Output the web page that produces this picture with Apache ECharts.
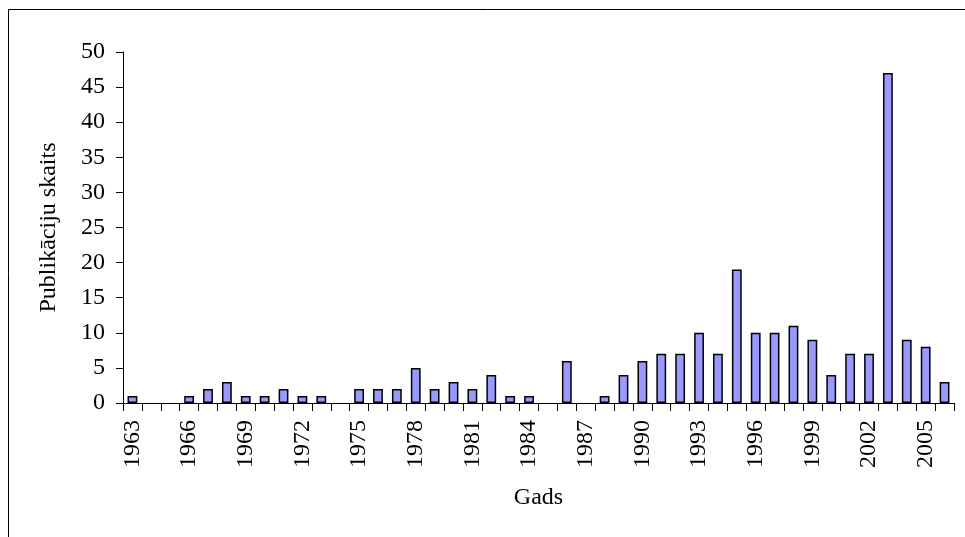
<!DOCTYPE html>
<html>
<head>
<meta charset="utf-8">
<script src="https://cdn.jsdelivr.net/npm/echarts@6/dist/echarts.min.js"></script>
<style>
  html, body { margin: 0; padding: 0; background: #fff; }
  #chart { width: 965px; height: 537px; }
</style>
</head>
<body>
<div id="chart"></div>
<script>
  // gadi 1963 - 2006
  let years = ['1963','1964','1965','1966','1967','1968','1969','1970','1971','1972',
    '1973','1974','1975','1976','1977','1978','1979','1980','1981','1982',
    '1983','1984','1985','1986','1987','1988','1989','1990','1991','1992',
    '1993','1994','1995','1996','1997','1998','1999','2000','2001','2002',
    '2003','2004','2005','2006']
  let counts = [1,0,0,1,2,3,1,1,2,1,
    1,0,2,2,2,5,2,3,2,4,
    1,1,0,6,0,1,4,6,7,7,
    10,7,19,10,10,11,9,4,7,7,
    47,9,8,3]
  let yTicks = [0, 5, 10, 15, 20, 25, 30, 35, 40, 45, 50]

  let font = 'Liberation Serif'
  // nulles stabiņiem nerāda apmali
  let barData = counts.map(v => v === 0 ? { value: v, itemStyle: { borderWidth: 0 } } : v)

  let chart = echarts.init(document.getElementById('chart'))
  let option = {
    animation: false,
    graphic: [{
      type: 'rect',
      shape: { x: 8.5, y: 9.5, width: 1000, height: 600 },
      style: { fill: 'none', stroke: '#000', lineWidth: 1 }
    }],
    grid: { left: 123, right: 11, top: 52, bottom: 134, containLabel: false },
    xAxis: {
      type: 'category',
      data: years,
      name: 'Gads',
      nameLocation: 'middle',
      nameGap: 83,
      nameTextStyle: { fontFamily: font, fontSize: 24, color: '#000' },
      axisLine: { lineStyle: { color: '#000', width: 1 } },
      axisTick: { show: true, length: 8, interval: 0, alignWithLabel: false, lineStyle: { color: '#000' } },
      axisLabel: {
        interval: 2,
        rotate: 90,
        margin: 17,
        fontFamily: font,
        fontSize: 24,
        color: '#000'
      }
    },
    yAxis: {
      type: 'value',
      min: yTicks[0],
      max: yTicks[yTicks.length - 1],
      interval: 5,
      name: 'Publikāciju skaits',
      nameLocation: 'middle',
      nameGap: 62,
      nameRotate: 90,
      nameTextStyle: { fontFamily: font, fontSize: 24, color: '#000' },
      axisLine: { show: true, lineStyle: { color: '#000', width: 1 } },
      axisTick: { show: true, length: 7, lineStyle: { color: '#000' } },
      axisLabel: { margin: 18, fontFamily: font, fontSize: 24, color: '#000' },
      splitLine: { show: false }
    },
    series: [{
      type: 'bar',
      data: barData,
      barWidth: '52%',
      itemStyle: { color: '#9999ff', borderColor: '#000', borderWidth: 1.5 }
    }]
  }
  chart.setOption(option)
</script>
</body>
</html>
